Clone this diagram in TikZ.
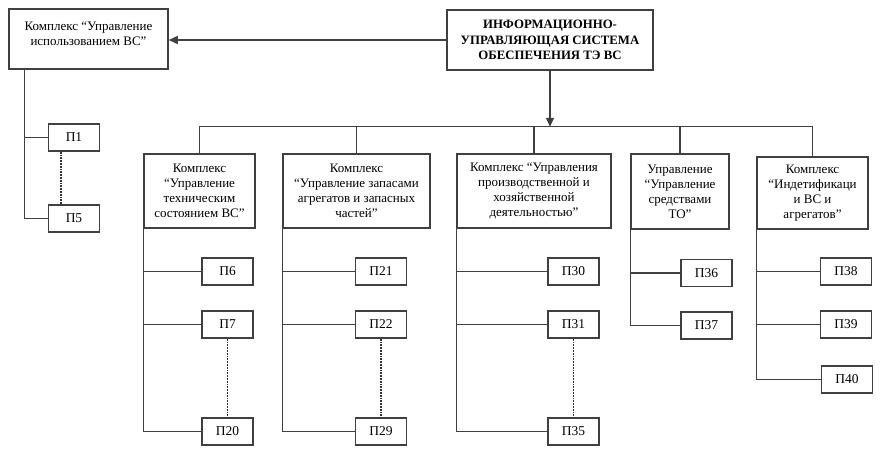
\documentclass[tikz,border=0pt]{standalone}
\usepackage{fontspec}
\setmainfont{Liberation Serif}
\usetikzlibrary{arrows.meta,calc,positioning}

\begin{document}
\begin{tikzpicture}[x=1pt,y=-1pt,
		box/.style={draw=black!75,line width=1.5pt,align=center,inner sep=1pt,font=\fontsize{13}{15}\selectfont},
		pbox/.style={box,minimum width=51pt,minimum height=27pt,font=\fontsize{13.5}{15}\selectfont},
		link/.style={draw=black!75,line width=1.4pt},
		dots/.style={draw=black!80,line width=1.8pt,densely dotted},
		tip/.style={-{Triangle[length=9pt,width=8pt]}}]
		\useasboundingbox (0,0) rectangle (890,467);

		% Top level
		\node[box,font=\bfseries\fontsize{12.8}{15.5}\selectfont,minimum width=206pt,minimum height=60pt] (isu) at (550,40)
		{ИНФОРМАЦИОННО-\\УПРАВЛЯЮЩАЯ СИСТЕМА\\ОБЕСПЕЧЕНИЯ ТЭ ВС};
		\node[box,minimum width=159pt,minimum height=60pt] (use) at (88.5,39)
		{\parbox[c][34pt][t]{155pt}{\centering Комплекс “Управление\\использованием ВС”}};
		\draw[link,tip] (isu.west) -- (use.east |- isu.west);

		% Complexes
		\node[box,minimum width=111pt,minimum height=74pt] (ka) at (199.5,191)
		{Комплекс\\“Управление\\техническим\\состоянием ВС”};
		\node[box,minimum width=147pt,minimum height=74pt] (kb) at (356.5,191)
		{Комплекс\\“Управление запасами\\агрегатов и запасных\\частей”};
		\node[box,minimum width=154pt,minimum height=74pt] (kc) at (534,191)
		{Комплекс “Управления\\производственной и\\хозяйственной\\деятельностью”};
		\node[box,minimum width=98pt,minimum height=75pt] (kd) at (680,191.5)
		{Управление\\“Управление\\средствами\\ТО”};
		\node[box,minimum width=111pt,minimum height=72pt] (ke) at (812.5,193)
		{Комплекс\\“Индетификаци\\и ВС и\\агрегатов”};

		% Bus
		\coordinate (bus) at ($(isu.south)+(0,56)$);
		\draw[link,tip] (isu.south) -- (bus);
		\draw[link] (ka.north) |- (ke.north |- bus) -- (ke.north);
		\foreach \k in {kb,kc,kd}
			\draw[link] (\k.north) -- (\k.north |- bus);

		% Subsystems
		\node[pbox] (p1) at (74,137.5) {П1};
		\node[pbox] (p5) at (74,218.5) {П5};
		\node[pbox] (p6) at (227.5,271.5) {П6};
		\node[pbox] (p7) at (227.5,324.5) {П7};
		\node[pbox] (p20) at (227.5,431.5) {П20};
		\node[pbox] (p21) at (381,271.5) {П21};
		\node[pbox] (p22) at (381,324.5) {П22};
		\node[pbox] (p29) at (381,431.5) {П29};
		\node[pbox] (p30) at (573.5,271.5) {П30};
		\node[pbox] (p31) at (573.5,324.5) {П31};
		\node[pbox] (p35) at (573.5,431.5) {П35};
		\node[pbox] (p36) at (706.5,273) {П36};
		\node[pbox] (p37) at (706.5,325.5) {П37};
		\node[pbox] (p38) at (846,271.5) {П38};
		\node[pbox] (p39) at (846,324.5) {П39};
		\node[pbox] (p40) at (847,379.5) {П40};

		% Branches
		\coordinate (lt) at ([xshift=16pt]use.south west);
		\draw[link] (lt) |- (p5.west);
		\draw[link] (p1.west) -- (p1.west -| lt);
		\draw[link] (ka.south west) |- (p20.west);
		\draw[link] (kb.south west) |- (p29.west);
		\draw[link] (kc.south west) |- (p35.west);
		\draw[link] (kd.south west) |- (p37.west);
		\draw[link] (ke.south west) |- (p40.west);
		\foreach \p/\k in {p6/ka,p7/ka,p21/kb,p22/kb,p30/kc,p31/kc,p36/kd,p38/ke,p39/ke}
			\draw[link] (\p.west) -- (\p.west -| \k.south west);

		% Omitted subsystems
		\draw[dots] ([xshift=-13pt]p1.south) -- ([xshift=-13pt]p5.north);
		\draw[dots] (p7) -- (p20);
		\draw[dots] (p22) -- (p29);
		\draw[dots] (p31) -- (p35);
\end{tikzpicture}
\end{document}
